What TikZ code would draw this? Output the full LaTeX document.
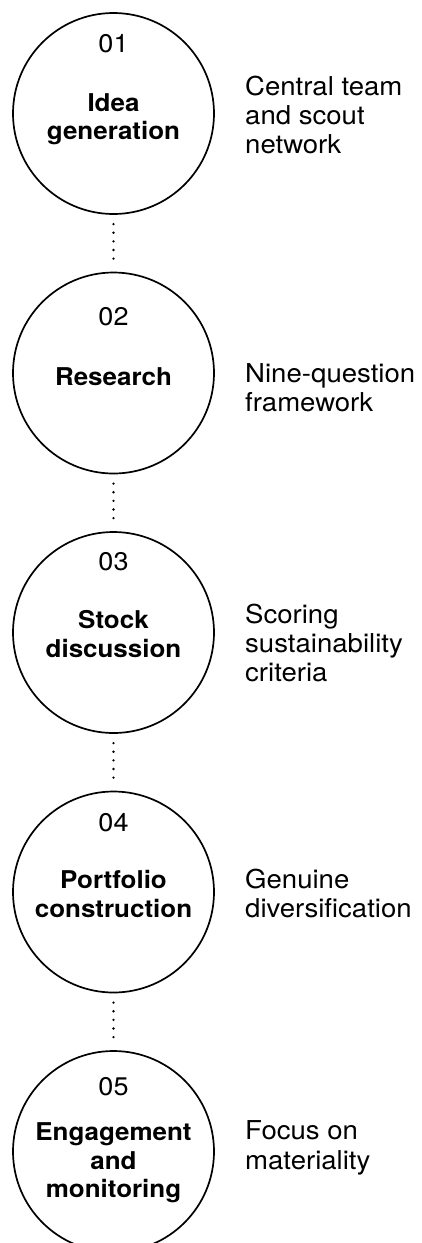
\documentclass[tikz,border=0pt]{standalone}
\usepackage{fontspec}
\setmainfont[FakeStretch=1.06]{TeX Gyre Heros}
\begin{document}
\begin{tikzpicture}[x=1pt,y=-1pt,
  stage/.style={circle,draw=black,line width=1.7pt,minimum size=201pt,inner sep=0pt},
  num/.style={anchor=base,inner sep=0pt,font=\fontsize{25.5}{28}\selectfont},
  ttl/.style={anchor=base,inner sep=0pt,font=\fontsize{24.5}{29}\selectfont\bfseries},
  side/.style={anchor=base west,inner sep=0pt,font=\fontsize{26}{29}\selectfont},
  link/.style={line width=2.6pt,line cap=round,dash pattern=on 0pt off 8.6pt,shorten <=9.3pt,shorten >=6pt}]
\useasboundingbox (0,0) rectangle (421,1243);
\node[stage] (c1) at (113.5,113.5) {};
\node[stage] (c2) at (113.5,373) {};
\node[stage] (c3) at (113.5,632.5) {};
\node[stage] (c4) at (113.5,892) {};
\node[stage] (c5) at (113.5,1151.5) {};
\foreach \a/\b in {c1/c2,c2/c3,c3/c4,c4/c5}
  \draw[link] (\a.south) -- (\b.north);
% circle 1
\node[num] (n1) at (113.5,52) {01};
\node[ttl] (t1a) at (113.5,111) {Idea};
\node[ttl] (t1b) at (113.5,139.5) {generation};
\node[side] (s1a) at (245,95) {Central team};
\node[side] (s1b) at (245,124) {and scout};
\node[side] (s1c) at (245,153) {network};
% circle 2
\node[num] (n2) at (113.5,325) {02};
\node[ttl] (t2a) at (113.5,385) {Research};
\node[side] (s2a) at (245,382) {Nine-question};
\node[side] (s2b) at (245,411.5) {framework};
% circle 3
\node[num] (n3) at (113.5,570) {03};
\node[ttl] (t3a) at (113.5,628.5) {Stock};
\node[ttl] (t3b) at (113.5,657.5) {discussion};
\node[side] (s3a) at (245,623.5) {Scoring};
\node[side] (s3b) at (245,652.5) {sustainability};
\node[side] (s3c) at (245,681) {criteria};
% circle 4
\node[num] (n4) at (113.5,831) {04};
\node[ttl] (t4a) at (113.5,888) {Portfolio};
\node[ttl] (t4b) at (113.5,917) {construction};
\node[side] (s4a) at (245,888.5) {Genuine};
\node[side] (s4b) at (245,917.5) {diversification};
% circle 5
\node[num] (n5) at (113.5,1095) {05};
\node[ttl] (t5a) at (113.5,1140) {Engagement};
\node[ttl] (t5b) at (113.5,1169) {and};
\node[ttl] (t5c) at (113.5,1197) {monitoring};
\node[side] (s5a) at (245,1139) {Focus on};
\node[side] (s5b) at (245,1169) {materiality};
\end{tikzpicture}
\end{document}
